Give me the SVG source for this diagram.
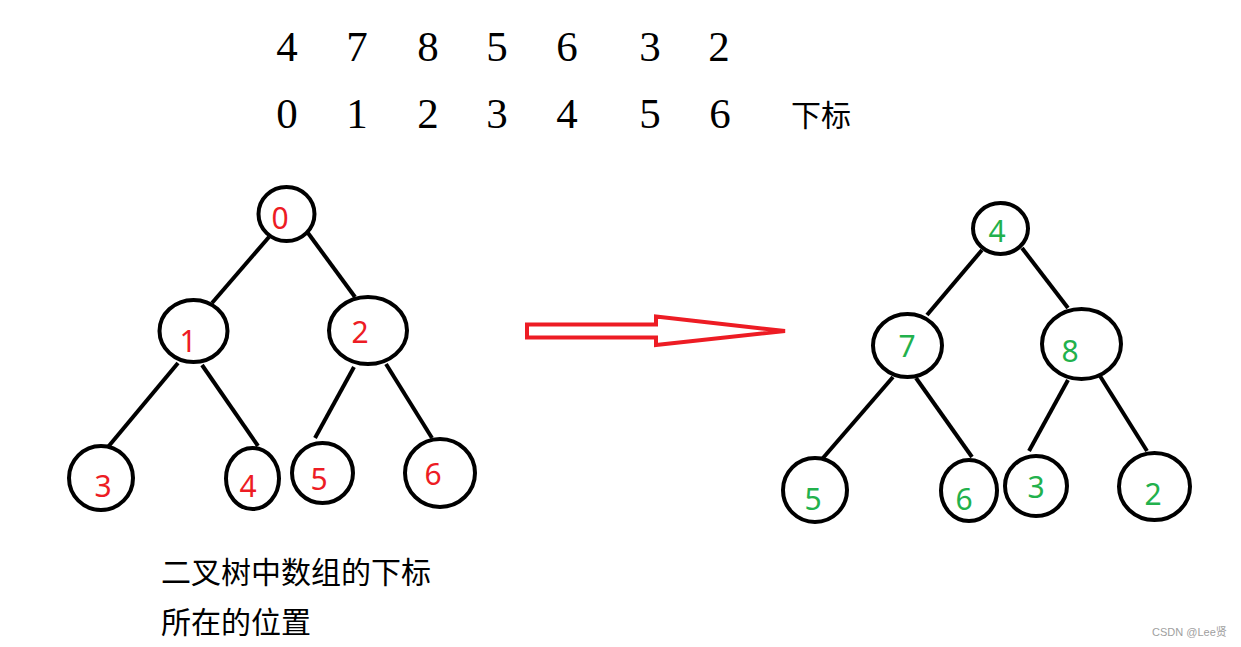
<svg xmlns="http://www.w3.org/2000/svg" width="1241" height="647" viewBox="0 0 1241 647">
<style>
.n{fill:#fff;stroke:#000;stroke-width:4}
.e{stroke:#000;stroke-width:4;stroke-linecap:butt;fill:none}
.arr{fill:none;stroke:#ED1C24;stroke-width:4;stroke-linejoin:miter}
.r{font-family:"Noto Sans","Open Sans",sans-serif;font-size:30px;fill:#ED1C24;text-anchor:middle}
.g{font-family:"Noto Sans","Open Sans",sans-serif;font-size:30px;fill:#22B14C;text-anchor:middle}
.t{font-family:"Liberation Serif",serif;font-size:43px;fill:#000;text-anchor:middle}
.c{font-family:"Noto Sans CJK SC",sans-serif;font-size:30px;fill:#000}
.w{font-family:"Liberation Sans","Noto Sans CJK SC",sans-serif;font-size:11px;fill:#a0a0a0}
</style>
<rect width="1241" height="647" fill="#fff"/>
<g id="array-values">
<text class="t" x="287" y="61">4</text>
<text class="t" x="357" y="61">7</text>
<text class="t" x="428" y="61">8</text>
<text class="t" x="497" y="61">5</text>
<text class="t" x="567" y="61">6</text>
<text class="t" x="650" y="61">3</text>
<text class="t" x="719" y="61">2</text>
</g>
<g id="array-indices">
<text class="t" x="287" y="128">0</text>
<text class="t" x="357" y="128">1</text>
<text class="t" x="428" y="128">2</text>
<text class="t" x="497" y="128">3</text>
<text class="t" x="567" y="128">4</text>
<text class="t" x="650" y="128">5</text>
<text class="t" x="720" y="128">6</text>
<text class="c" x="791" y="126">下标</text>
</g>
<g id="connectors">
<line class="e" x1="269" y1="237" x2="212" y2="303"/>
<line class="e" x1="308" y1="233" x2="355" y2="297"/>
<line class="e" x1="178" y1="363" x2="108" y2="447"/>
<line class="e" x1="202" y1="365" x2="258" y2="446"/>
<line class="e" x1="354" y1="367" x2="315" y2="438"/>
<line class="e" x1="386" y1="364" x2="432" y2="438"/>
<line class="e" x1="982" y1="250" x2="927" y2="315"/>
<line class="e" x1="1022" y1="248" x2="1068" y2="308"/>
<line class="e" x1="893" y1="377" x2="823" y2="458"/>
<line class="e" x1="916" y1="378" x2="972" y2="457"/>
<line class="e" x1="1068" y1="380" x2="1029" y2="451"/>
<line class="e" x1="1100" y1="376" x2="1147" y2="451"/>
<polygon class="arr" points="527,324.5 656,324.5 656,316.5 785,331 656,345 656,337.5 527,337.5"/>
</g>
<g id="L0"><ellipse class="n" cx="286.5" cy="214" rx="28" ry="27"/><text class="r" x="280" y="229">0</text></g>
<g id="L1"><ellipse class="n" cx="193.5" cy="331" rx="34" ry="31"/><text class="r" x="188" y="352">1</text></g>
<g id="L2"><ellipse class="n" cx="368" cy="330.5" rx="39" ry="33.5"/><text class="r" x="360" y="343">2</text></g>
<g id="L3"><ellipse class="n" cx="101" cy="478" rx="32" ry="32"/><text class="r" x="103" y="497">3</text></g>
<g id="L4"><ellipse class="n" cx="252.5" cy="478.5" rx="26.5" ry="30.5"/><text class="r" x="248" y="497">4</text></g>
<g id="L5"><ellipse class="n" cx="322.5" cy="473" rx="30.5" ry="30"/><text class="r" x="319" y="490">5</text></g>
<g id="L6"><ellipse class="n" cx="440" cy="473" rx="35" ry="34"/><text class="r" x="433" y="485">6</text></g>
<g id="R4"><ellipse class="n" cx="1000.5" cy="228.5" rx="27.5" ry="25.5"/><text class="g" x="997" y="242">4</text></g>
<g id="R7"><ellipse class="n" cx="907.5" cy="345.5" rx="34.5" ry="31.5"/><text class="g" x="907" y="357">7</text></g>
<g id="R8"><ellipse class="n" cx="1081.5" cy="344" rx="39.5" ry="35"/><text class="g" x="1070" y="362">8</text></g>
<g id="R5"><ellipse class="n" cx="815" cy="490" rx="32" ry="32"/><text class="g" x="813" y="510">5</text></g>
<g id="R6"><ellipse class="n" cx="969" cy="490.5" rx="28" ry="30.5"/><text class="g" x="964" y="510">6</text></g>
<g id="R3"><ellipse class="n" cx="1036" cy="486" rx="31" ry="30"/><text class="g" x="1036" y="498">3</text></g>
<g id="R2"><ellipse class="n" cx="1154.5" cy="486.5" rx="35.5" ry="33.5"/><text class="g" x="1153" y="505">2</text></g>
<g id="caption">
<text class="c" x="161" y="583">二叉树中数组的下标</text>
<text class="c" x="161" y="633">所在的位置</text>
</g>
<text class="w" x="1152" y="636">CSDN @Lee贤</text>
</svg>
